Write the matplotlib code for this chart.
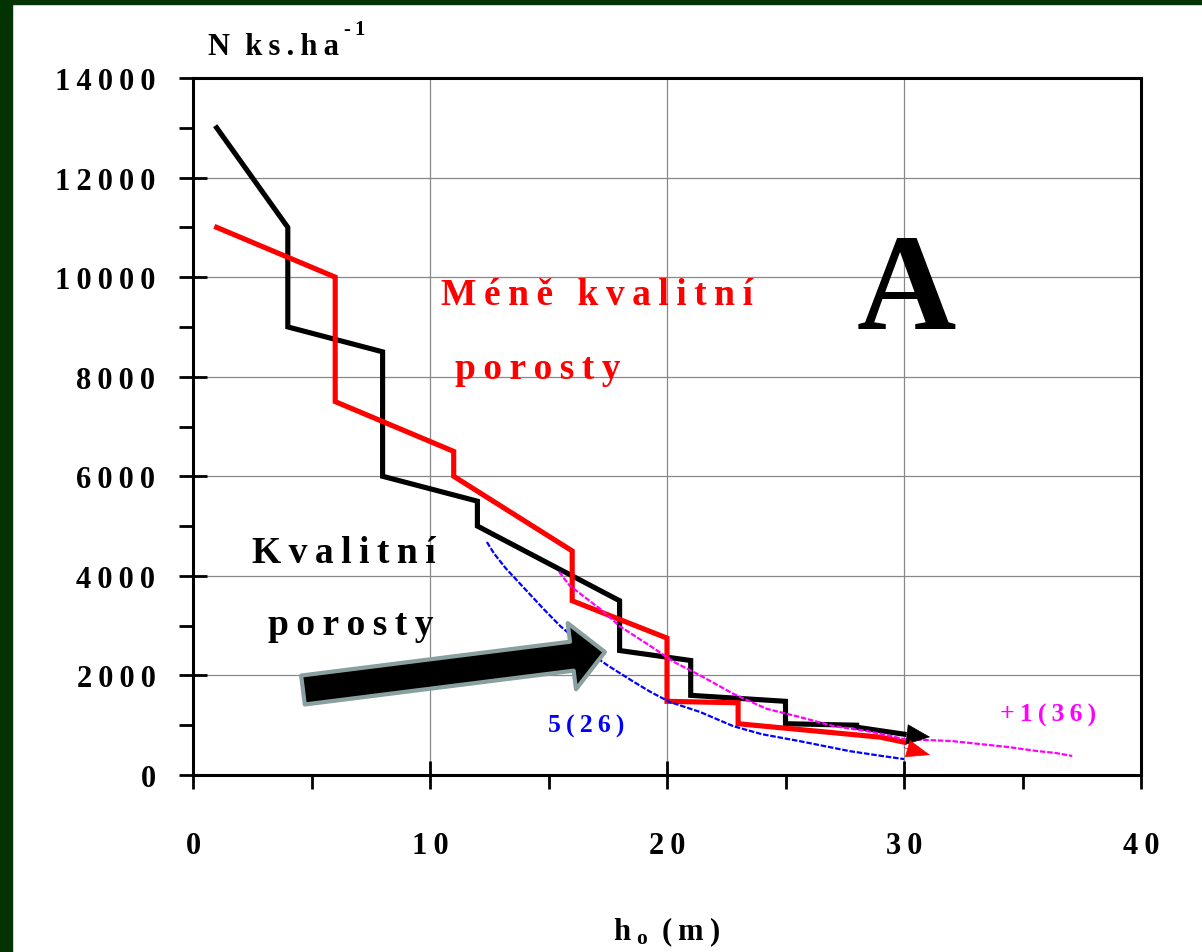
import matplotlib
matplotlib.use("Agg")
import matplotlib.pyplot as plt
from matplotlib.patches import FancyArrowPatch, Rectangle
from matplotlib.ticker import MultipleLocator

plt.rcParams['font.family'] = ['Liberation Serif', 'DejaVu Serif']
plt.rcParams['font.weight'] = 'bold'
plt.rcParams['mathtext.fontset'] = 'custom'
plt.rcParams['mathtext.rm'] = 'Liberation Serif:bold'
plt.rcParams['mathtext.bf'] = 'Liberation Serif:bold'
plt.rcParams['mathtext.it'] = 'Liberation Serif:bold'

# Quality stands ("Kvalitní porosty"): stem count vs. top height
kval_h = [1, 4, 4, 8, 8, 12, 12, 18, 18, 21, 21, 25, 25, 28, 28, 30]
kval_n = [13000, 11000, 9000, 8500, 6000, 5500, 5000, 3500, 2500, 2300, 1600, 1480, 1030, 1000, 960, 820]

# Lower-quality stands ("Méně kvalitní porosty")
mene_h = [1, 6, 6, 11, 11, 16, 16, 20, 20, 23, 23, 29, 30]
mene_n = [11000, 10000, 7500, 6500, 6000, 4500, 3500, 2750, 1480, 1450, 1030, 760, 660]

# Reference curve 5(26)
c526_h = [12.4, 12.7, 13.2, 14.0, 14.8, 15.5, 15.8, 16.6, 17.5, 18.6, 19.3, 20.1, 21.4, 22.8, 24.0, 25.6, 27.7, 29.1, 30.0]
c526_n = [4680, 4450, 4150, 3740, 3330, 2990, 2870, 2500, 2200, 1870, 1670, 1470, 1265, 980, 820, 680, 480, 380, 320]

# Reference curve +1(36)
c136_h = [15.45, 15.9, 17.2, 18.0, 19.3, 20.3, 21.4, 22.8, 24.2, 25.6, 27.0, 28.4, 29.1, 30.0, 32.0, 33.2, 34.4, 35.6, 36.4, 37.1]
c136_n = [4080, 3800, 3330, 2990, 2590, 2270, 2000, 1630, 1330, 1165, 985, 885, 820, 720, 683, 622, 562, 482, 442, 382]

x_ticks = [0, 10, 20, 30, 40]
y_ticks = [0, 2000, 4000, 6000, 8000, 10000, 12000, 14000]

THIN = '\u2009'


def spaced(s):
    """Letter-spaced version of a label."""
    return THIN.join(s)


fig = plt.figure(figsize=(12.02, 9.53), dpi=100)
fig.patch.set_facecolor('white')

# dark green frame along the top and left edges
green = '#033203'
fig.add_artist(Rectangle((0, 0), 12 / 1202, 1, transform=fig.transFigure, color=green, zorder=0))
fig.add_artist(Rectangle((0, 1 - 5 / 953), 1, 5 / 953, transform=fig.transFigure, color=green, zorder=0))

ax = fig.add_axes([193 / 1202, 1 - 776 / 953, (1141 - 193) / 1202, (776 - 79) / 953])
ax.set_xlim(0, 40)
ax.set_ylim(0, 14000)

ax.set_xticks(x_ticks)
ax.set_yticks(y_ticks)
ax.xaxis.set_minor_locator(MultipleLocator(5))
ax.yaxis.set_minor_locator(MultipleLocator(1000))
ax.set_xticklabels([spaced(str(v)) for v in x_ticks])
ax.set_yticklabels([spaced(str(v)) for v in y_ticks])

ax.tick_params(which='major', direction='inout', length=20, width=2.0, labelsize=22)
ax.tick_params(which='minor', direction='out', length=10, width=2.0)
ax.tick_params(axis='x', which='major', pad=30)
ax.tick_params(axis='y', which='major', pad=17)
for lab in ax.get_xticklabels() + ax.get_yticklabels():
    lab.set_fontweight('bold')

for s in ax.spines.values():
    s.set_linewidth(2.2)
    s.set_color('black')

ax.grid(True, which='major', color='#888888', linewidth=0.9)
ax.set_axisbelow(True)

# reference curves (thin, finely dashed)
ax.plot(c526_h, c526_n, color='#0000ff', lw=1.6, ls=(0, (2.5, 0.8)), zorder=4)
ax.plot(c136_h, c136_n, color='#ff00ff', lw=1.6, ls=(0, (2.5, 0.8)), zorder=4)

# stand series
ax.plot(kval_h, kval_n, color='black', lw=3.7, solid_joinstyle='miter', zorder=3)
ax.plot(mene_h, mene_n, color='#ff0000', lw=3.7, solid_joinstyle='miter', zorder=3.5)

# arrow heads at the line ends
ax.add_patch(FancyArrowPatch((kval_h[-1], kval_n[-1]), (31.1, 763),
                             arrowstyle='-|>,head_length=16,head_width=7',
                             color='black', lw=0.5, shrinkA=0, shrinkB=0, zorder=5))
ax.add_patch(FancyArrowPatch((mene_h[-1], mene_n[-1] - 110), (31.1, 402),
                             arrowstyle='-|>,head_length=16,head_width=6',
                             color='#ff0000', lw=0.5, shrinkA=0, shrinkB=0, zorder=5))

# big pointer arrow
ax.add_patch(FancyArrowPatch((4.64, 1707), (17.38, 2470),
                             arrowstyle='simple,head_length=24,head_width=48,tail_width=21',
                             mutation_scale=1, facecolor='black', edgecolor='#8aa0a0',
                             lw=3, shrinkA=0, shrinkB=0, zorder=6))

# annotations
ax.text(17.05, 9460, spaced('Méně kvalitní'), color='#ff0000', fontsize=27, fontweight='bold',
        ha='center', va='baseline', zorder=7)
ax.text(14.56, 7973, spaced('porosty'), color='#ff0000', fontsize=27, fontweight='bold',
        ha='center', va='baseline', zorder=7)
ax.text(6.37, 4278, spaced('Kvalitní'), color='black', fontsize=27, fontweight='bold',
        ha='center', va='baseline', zorder=7)
ax.text(6.67, 2832, spaced('porosty'), color='black', fontsize=27, fontweight='bold',
        ha='center', va='baseline', zorder=7)
ax.text(30.08, 8978, 'A', color='black', fontsize=99, fontweight='bold',
        ha='center', va='baseline', zorder=7)
ax.text(16.58, 864, spaced('5(26)'), color='#0000ff', fontsize=18.5, fontweight='bold',
        ha='center', va='baseline', zorder=7)
ax.text(36.08, 1085, spaced('+1(36)'), color='#ff00ff', fontsize=18.5, fontweight='bold',
        ha='center', va='baseline', zorder=7)

# axis titles
fig.text(208 / 1202, 1 - 55 / 953, 'N  ' + spaced('ks.ha'), fontsize=22, fontweight='bold',
         ha='left', va='baseline')
fig.text(344 / 1202, 1 - 35 / 953, spaced('-1'), fontsize=15, fontweight='bold',
         ha='left', va='baseline')
fig.text(667 / 1202, 1 - 940 / 953,
         'h' + THIN + r'$_{\mathbf{o}}$' + THIN + ' ' + spaced('(m)'),
         fontsize=22, fontweight='bold', ha='center', va='baseline')

fig.savefig('out.png', dpi=100, facecolor='white')
